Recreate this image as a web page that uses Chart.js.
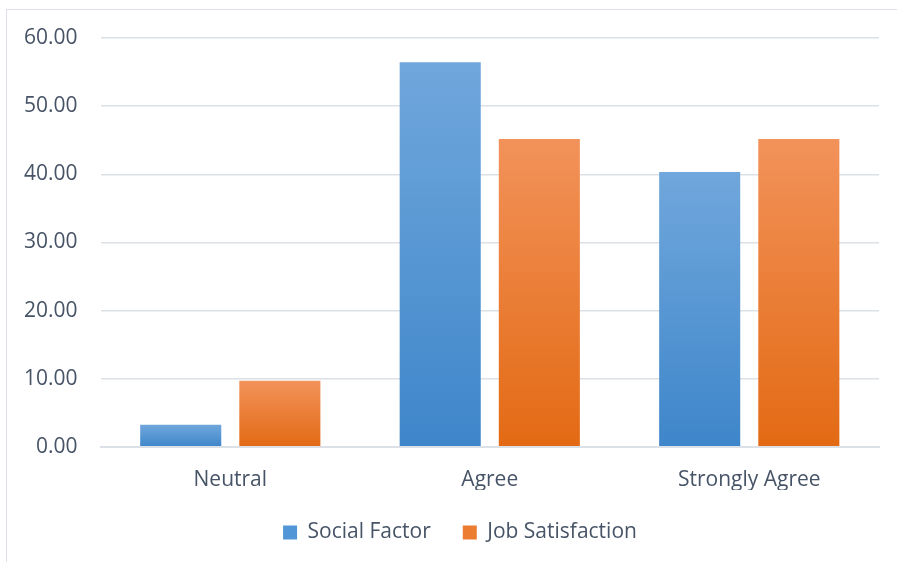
<!DOCTYPE html>
<html>
<head>
<meta charset="utf-8">
<script src="https://cdn.jsdelivr.net/npm/chart.js@4"></script>
<style>
    html, body { margin: 0; padding: 0; background: #fff; }
    #wrap { position: relative; width: 897px; height: 562px; overflow: hidden; }
    #frame { position: absolute; left: 6px; top: 9px; width: 1000px; height: 1000px; border: 1.5px solid #DEE2E8; }
    canvas { position: absolute; left: 0; top: 0; }
</style>
</head>
<body>
<div id="wrap">
    <div id="frame"></div>
    <canvas id="myChart" width="897" height="562"></canvas>
</div>
<script>
const categories = ["Neutral", "Agree", "Strongly Agree"];
const socialFactor = [3.23, 56.45, 40.32];
const jobSatisfaction = [9.68, 45.16, 45.16];

const textColor = '#475467';
const gridColor = '#DCE1E8';

// vertical gradient per bar, like Excel's fill
const barGradient = (topColor, bottomColor) => (ctx) => {
    const chart = ctx.chart;
    const y = chart.scales && chart.scales.y;
    if (!chart.chartArea || !y || ctx.raw === undefined) {
        return bottomColor;
    }
    const top = y.getPixelForValue(ctx.raw);
    const bottom = y.getPixelForValue(0);
    if (!isFinite(top) || !isFinite(bottom) || top === bottom) {
        return bottomColor;
    }
    let g = chart.ctx.createLinearGradient(0, top, 0, bottom);
    g.addColorStop(0, topColor);
    g.addColorStop(1, bottomColor);
    return g;
};

// legend in the original sits a bit right of center
const legendShift = {
    id: 'legendShift',
    afterLayout: (chart) => {
        if (chart.legend) {
            chart.legend.left += 20;
            chart.legend.right += 20;
        }
    }
};

let data = {
    labels: categories,
    datasets: [{
        label: 'Social Factor',
        data: socialFactor,
        backgroundColor: barGradient('#70A7DC', '#3E86CA'),
        categoryPercentage: 0.764,
        barPercentage: 0.818
    }, {
        label: 'Job Satisfaction',
        data: jobSatisfaction,
        backgroundColor: barGradient('#F2925A', '#E36A14'),
        categoryPercentage: 0.764,
        barPercentage: 0.818
    }]
};

const config = {
    type: 'bar',
    data: data,
    plugins: [legendShift],
    options: {
        responsive: false,
        animation: false,
        layout: {
            padding: { left: 1, right: 18, top: 38, bottom: 9 }
        },
        plugins: {
            tooltip: { enabled: false },
            legend: {
                position: 'bottom',
                labels: {
                    color: textColor,
                    font: { family: 'Open Sans', size: 21 },
                    boxWidth: 14,
                    boxHeight: 14,
                    padding: 32,
                    generateLabels: (chart) => {
                        return chart.data.datasets.map((ds, i) => ({
                            text: ds.label,
                            fillStyle: i === 0 ? '#5196D6' : '#EC7C30',
                            strokeStyle: 'transparent',
                            lineWidth: 0,
                            fontColor: textColor,
                            datasetIndex: i
                        }));
                    }
                }
            }
        },
        scales: {
            x: {
                grid: { display: false, drawTicks: false },
                border: { display: true, color: gridColor, width: 2 },
                ticks: {
                    color: textColor,
                    font: { family: 'Open Sans', size: 21 },
                    padding: 21
                },
                // pull the legend up closer to the category labels
                afterFit: (scale) => { scale.height -= 24; }
            },
            y: {
                min: 0,
                max: 60,
                grid: { color: gridColor, lineWidth: 1.5, drawTicks: false },
                border: { display: false },
                ticks: {
                    stepSize: 10,
                    color: textColor,
                    font: { family: 'Open Sans', size: 21 },
                    padding: 23,
                    callback: (v) => v.toFixed(2)
                }
            }
        }
    }
};

var myChart = new Chart(document.getElementById('myChart'), config);
</script>
</body>
</html>
